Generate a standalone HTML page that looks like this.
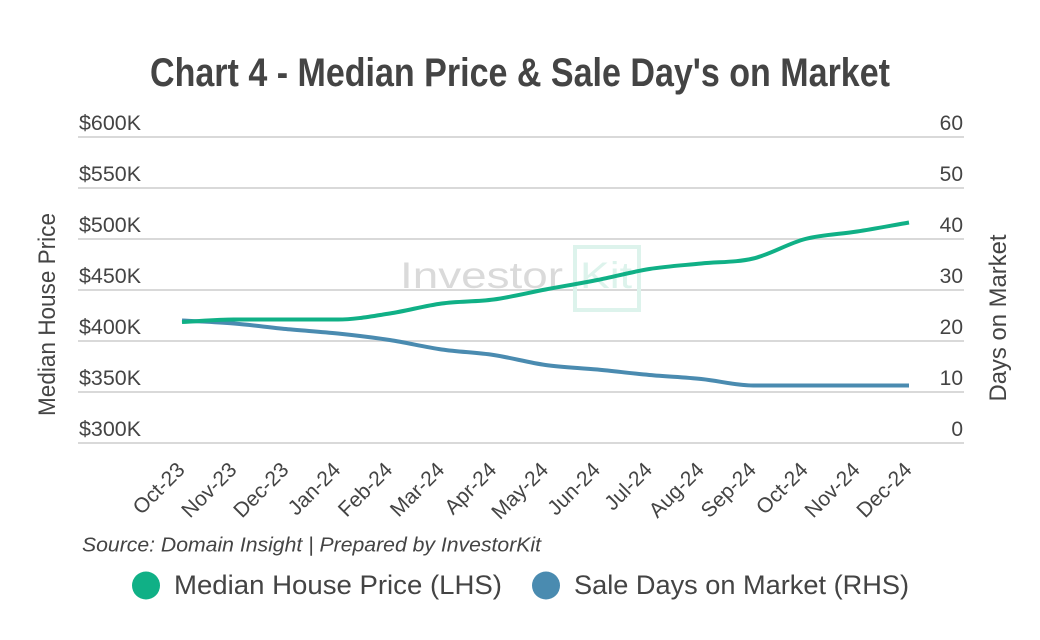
<!DOCTYPE html>
<html>
<head>
<meta charset="utf-8">
<style>
  html, body { margin: 0; padding: 0; background: #ffffff; }
  svg { display: block; }
  text { font-family: "Liberation Sans", sans-serif; fill: #444444; }
</style>
</head>
<body>
<svg width="1040" height="640" viewBox="0 0 1040 640" xmlns="http://www.w3.org/2000/svg">
  <rect width="1040" height="640" fill="#ffffff"/>

  <!-- Title -->
  <text x="520" y="86" text-anchor="middle" font-size="40" font-weight="bold" textLength="740" lengthAdjust="spacingAndGlyphs">Chart 4 - Median Price &amp; Sale Day's on Market</text>

  <!-- Gridlines -->
  <g stroke="#d9d9d9" stroke-width="2">
    <line x1="78" y1="137" x2="964" y2="137"/>
    <line x1="78" y1="188" x2="964" y2="188"/>
    <line x1="78" y1="239" x2="964" y2="239"/>
    <line x1="78" y1="290" x2="964" y2="290"/>
    <line x1="78" y1="341" x2="964" y2="341"/>
    <line x1="78" y1="392" x2="964" y2="392"/>
    <line x1="78" y1="443" x2="964" y2="443"/>
  </g>

  <!-- Watermark -->
  <text x="400" y="288" font-size="37" textLength="163" lengthAdjust="spacingAndGlyphs" style="fill:#dadada">Investor</text>
  <rect x="575" y="247" width="64" height="63" fill="none" stroke="#ddf3ec" stroke-width="4"/>
  <text x="580" y="288" font-size="37" textLength="52" lengthAdjust="spacingAndGlyphs" style="fill:#ddf3ec">Kit</text>

  <!-- Left tick labels -->
  <g font-size="21">
    <text x="79" y="130" textLength="62" lengthAdjust="spacingAndGlyphs">$600K</text>
    <text x="79" y="181" textLength="62" lengthAdjust="spacingAndGlyphs">$550K</text>
    <text x="79" y="232" textLength="62" lengthAdjust="spacingAndGlyphs">$500K</text>
    <text x="79" y="283" textLength="62" lengthAdjust="spacingAndGlyphs">$450K</text>
    <text x="79" y="334" textLength="62" lengthAdjust="spacingAndGlyphs">$400K</text>
    <text x="79" y="385" textLength="62" lengthAdjust="spacingAndGlyphs">$350K</text>
    <text x="79" y="436" textLength="62" lengthAdjust="spacingAndGlyphs">$300K</text>
  </g>

  <!-- Right tick labels -->
  <g font-size="21" text-anchor="end">
    <text x="963" y="130">60</text>
    <text x="963" y="181">50</text>
    <text x="963" y="232">40</text>
    <text x="963" y="283">30</text>
    <text x="963" y="334">20</text>
    <text x="963" y="385">10</text>
    <text x="963" y="436">0</text>
  </g>

  <!-- Axis titles -->
  <text transform="translate(55,314.5) rotate(-90)" text-anchor="middle" font-size="24" textLength="203" lengthAdjust="spacingAndGlyphs">Median House Price</text>
  <text transform="translate(1006,318) rotate(-90)" text-anchor="middle" font-size="24" textLength="167" lengthAdjust="spacingAndGlyphs">Days on Market</text>

  <!-- Series: Sale Days on Market (blue) -->
  <path fill="none" stroke="#4a8bb0" stroke-width="4" stroke-linejoin="round" stroke-linecap="butt"
    d="M182,320.5
       C199.3,321.5 216.6,322.08 233.9,323.5
       C251.2,324.92 268.6,327.33 285.9,329
       C303.2,330.67 320.5,331.67 337.8,333.5
       C355.1,335.33 372.4,337.33 389.7,340
       C407.0,342.67 424.4,347 441.7,349.5
       C459.0,352 476.3,352.42 493.6,355
       C510.9,357.58 528.2,362.58 545.5,365
       C562.8,367.42 580.1,367.83 597.4,369.5
       C614.7,371.17 632.1,373.42 649.4,375
       C666.7,376.58 684.0,377.25 701.3,379
       C718.6,380.75 735.9,385.5 753.2,385.5
       L909,385.5"/>

  <!-- Series: Median House Price (green) -->
  <path fill="none" stroke="#10b086" stroke-width="4" stroke-linejoin="round" stroke-linecap="butt"
    d="M182,322
       C199.3,321.17 216.6,319.5 233.9,319.5
       C251.2,319.5 268.6,319.5 285.9,319.5
       C303.2,319.5 320.5,319.5 337.8,319.5
       C355.1,319.5 372.4,316.17 389.7,313.5
       C407.0,310.83 424.4,305.83 441.7,303.5
       C459.0,301.17 476.3,301.83 493.6,299.5
       C510.9,297.17 528.2,292.75 545.5,289.5
       C562.8,286.25 580.1,283.42 597.4,280
       C614.7,276.58 632.1,271.75 649.4,269
       C666.7,266.25 684.0,265.25 701.3,263.5
       C718.6,261.75 735.9,262.58 753.2,258.5
       C770.5,254.42 787.9,243.5 805.2,239
       C822.5,234.5 839.8,234.25 857.1,231.5
       C874.4,228.75 891.7,225.5 909,222.5"/>

  <!-- X axis labels -->
  <g font-size="21" text-anchor="end">
    <text transform="translate(186,471) rotate(-45)">Oct-23</text>
    <text transform="translate(237.9,471) rotate(-45)">Nov-23</text>
    <text transform="translate(289.9,471) rotate(-45)">Dec-23</text>
    <text transform="translate(341.8,471) rotate(-45)">Jan-24</text>
    <text transform="translate(393.7,471) rotate(-45)">Feb-24</text>
    <text transform="translate(445.7,471) rotate(-45)">Mar-24</text>
    <text transform="translate(497.6,471) rotate(-45)">Apr-24</text>
    <text transform="translate(549.5,471) rotate(-45)">May-24</text>
    <text transform="translate(601.4,471) rotate(-45)">Jun-24</text>
    <text transform="translate(653.4,471) rotate(-45)">Jul-24</text>
    <text transform="translate(705.3,471) rotate(-45)">Aug-24</text>
    <text transform="translate(757.2,471) rotate(-45)">Sep-24</text>
    <text transform="translate(809.2,471) rotate(-45)">Oct-24</text>
    <text transform="translate(861.1,471) rotate(-45)">Nov-24</text>
    <text transform="translate(913,471) rotate(-45)">Dec-24</text>
  </g>

  <!-- Source -->
  <text x="82" y="551.5" font-size="20" font-style="italic" textLength="459" lengthAdjust="spacingAndGlyphs">Source: Domain Insight | Prepared by InvestorKit</text>

  <!-- Legend -->
  <circle cx="146" cy="585.5" r="14" fill="#10b086"/>
  <text x="174" y="594" font-size="27" textLength="328" lengthAdjust="spacingAndGlyphs">Median House Price (LHS)</text>
  <circle cx="546" cy="585.5" r="14" fill="#4a8bb0"/>
  <text x="574" y="594" font-size="27" textLength="335" lengthAdjust="spacingAndGlyphs">Sale Days on Market (RHS)</text>
</svg>
</body>
</html>
